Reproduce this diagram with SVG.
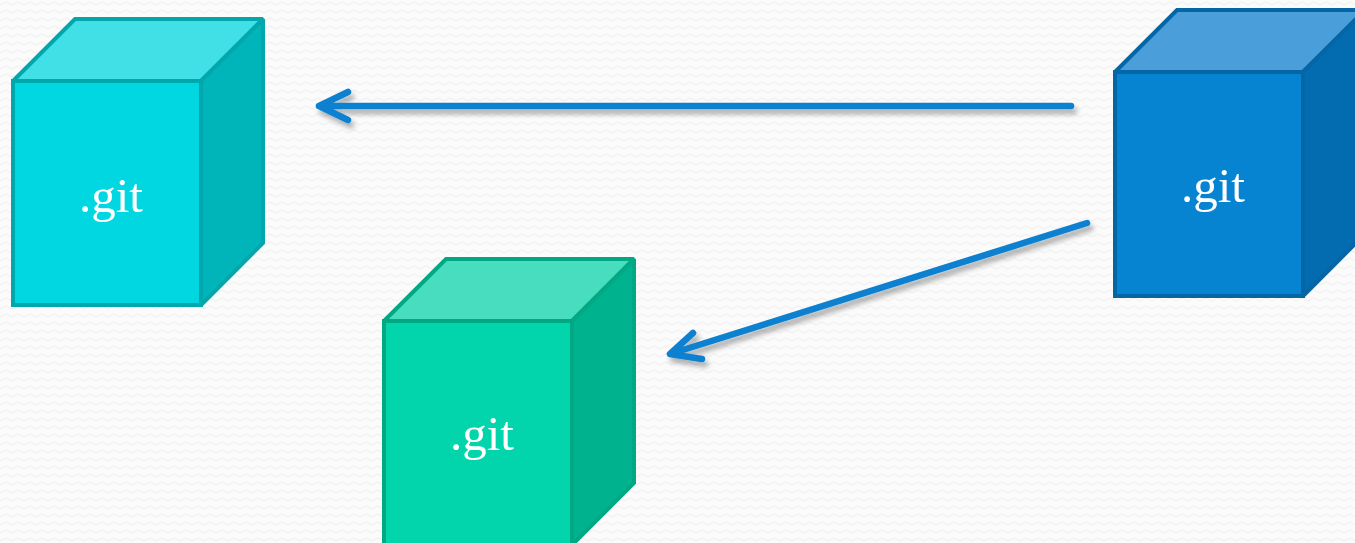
<svg xmlns="http://www.w3.org/2000/svg" width="1355" height="543" viewBox="0 0 1355 543">
  <defs>
    <pattern id="bg" width="12" height="8" patternUnits="userSpaceOnUse">
      <rect width="12" height="8" fill="#FBFBFB"/>
      <path d="M0 5 L6 2 L12 5" fill="none" stroke="#F1F1F1" stroke-width="1.2"/>
    </pattern>
    <filter id="shadow" x="-10%" y="-50%" width="120%" height="200%">
      <feDropShadow dx="3" dy="5" stdDeviation="2.5" flood-color="#000" flood-opacity="0.3"/>
    </filter>
    <style>
      .lbl { font-family: "Liberation Serif", "Times New Roman", serif; font-size: 49px; fill: #FFFFFF; text-anchor: middle; }
      .edge { fill: none; stroke: #0A80D0; stroke-width: 6.5; stroke-linecap: round; stroke-linejoin: round; }
      g path { stroke-width: 4; stroke-linejoin: miter; stroke-miterlimit: 2; }
      .cyan .front { fill: #00D7E0; } .cyan .top { fill: #40E0E6; } .cyan .side { fill: #00B5BA; }
      .cyan path { stroke: #00A8AE; }
      .blue .front { fill: #0684D2; } .blue .top { fill: #4A9FDB; } .blue .side { fill: #036BAF; }
      .blue path { stroke: #0566A6; }
      .green .front { fill: #02D4AB; } .green .top { fill: #48DDBF; } .green .side { fill: #00B38E; }
      .green path { stroke: #00A883; }
    </style>
  </defs>
  <rect width="1355" height="543" fill="url(#bg)"/>

  <g id="node-left" class="cyan">
    <path class="top" d="M13 81 L75 19 L263 19 L201 81 Z"/>
    <path class="side" d="M201 81 L263 19 L263 243 L201 305 Z"/>
    <path class="front" d="M13 81 L201 81 L201 305 L13 305 Z"/>
    <text class="lbl" x="111" y="212">.git</text>
  </g>

  <g id="node-right" class="blue">
    <path class="top" d="M1115 72 L1177 10 L1365 10 L1303 72 Z"/>
    <path class="side" d="M1303 72 L1365 10 L1365 234 L1303 296 Z"/>
    <path class="front" d="M1115 72 L1303 72 L1303 296 L1115 296 Z"/>
    <text class="lbl" x="1213" y="202">.git</text>
  </g>

  <g id="node-bottom" class="green">
    <path class="top" d="M384 321 L446 259 L634 259 L572 321 Z"/>
    <path class="side" d="M572 321 L634 259 L634 483 L572 545 Z"/>
    <path class="front" d="M384 321 L572 321 L572 548 L384 548 Z"/>
    <text class="lbl" x="482" y="450">.git</text>
  </g>

  <g id="connectors" filter="url(#shadow)">
    <path class="edge" d="M1071 106 L319 106 M348 92 L319 106 L348 120"/>
    <path class="edge" d="M1087 223 L670 354 M693 333 L670 354 L702 359"/>
  </g>
</svg>
